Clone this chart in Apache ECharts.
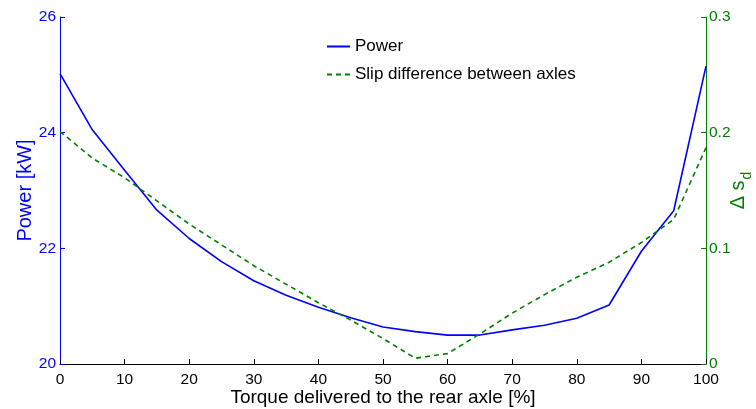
<!DOCTYPE html>
<html>
<head>
<meta charset="utf-8">
<script src="https://cdn.jsdelivr.net/npm/echarts@6/dist/echarts.min.js"></script>
<style>html,body{margin:0;padding:0;background:#fff;}#c{width:756px;height:409px;}</style>
</head>
<body>
<div id="c"></div>
<script>
const torque = [0,5,10,15,20,25,30,35,40,45,50,55,60,65,70,75,80,85,90,95,100];
const power = [25.02,24.05,23.35,22.66,22.17,21.77,21.44,21.19,20.98,20.8,20.64,20.56,20.5,20.5,20.59,20.67,20.79,21.02,21.95,22.65,25.15];
const slipDiff = [0.201,0.178,0.161,0.141,0.121,0.103,0.085,0.069,0.053,0.038,0.022,0.005,0.009,0.026,0.044,0.06,0.075,0.088,0.105,0.125,0.187];
const xTicks = [0,10,20,30,40,50,60,70,80,90,100];
const powerTicks = [20,22,24,26];
const slipTicks = [0,0.1,0.2,0.3];

const font = 'Liberation Sans, Arial, sans-serif';
const chart = echarts.init(document.getElementById('c'));
chart.setOption({
  animation: false,
  backgroundColor: '#fff',
  grid: {left: 60, right: 50, top: 17, bottom: 45, containLabel: false, outerBoundsMode: 'none'},
  legend: {
    orient: 'vertical', left: 321, top: 33,
    itemWidth: 23, itemHeight: 14, itemGap: 11,
    itemStyle: {opacity: 0},
    textStyle: {fontFamily: font, fontSize: 17, color: '#000'},
    data: ['Power', 'Slip difference between axles']
  },
  xAxis: {
    type: 'value', min: xTicks[0], max: xTicks[xTicks.length-1], interval: 10,
    name: 'Torque delivered to the rear axle [%]', nameLocation: 'middle', nameGap: 24,
    nameMoveOverlap: false,
    nameTextStyle: {fontFamily: font, fontSize: 19, color: '#000'},
    axisLine: {lineStyle: {color: '#000', width: 1}},
    axisTick: {inside: true, length: 5, lineStyle: {color: '#000'}},
    axisLabel: {fontFamily: font, fontSize: 15.5, color: '#000', margin: 8},
    splitLine: {show: false}
  },
  yAxis: [{
    type: 'value', min: powerTicks[0], max: powerTicks[powerTicks.length-1], interval: 2,
    position: 'left',
    name: 'Power [kW]', nameLocation: 'middle', nameGap: 25, nameRotate: 90,
    nameMoveOverlap: false,
    nameTextStyle: {fontFamily: font, fontSize: 20, color: '#0000ff'},
    axisLine: {show: true, lineStyle: {color: '#0000ff', width: 1}},
    axisTick: {show: true, inside: true, length: 5, lineStyle: {color: '#0000ff'}},
    axisLabel: {fontFamily: font, fontSize: 15.5, color: '#0000ff', margin: 4},
    splitLine: {show: false}
  }, {
    type: 'value', min: slipTicks[0], max: slipTicks[slipTicks.length-1], interval: 0.1,
    position: 'right',
    name: '{a|Δ s}{b|d}', nameLocation: 'middle', nameGap: 16, nameRotate: 90,
    nameMoveOverlap: false,
    nameTextStyle: {
      color: '#008000',
      rich: {
        a: {fontFamily: font, fontSize: 20, color: '#008000'},
        b: {fontFamily: font, fontSize: 14, color: '#008000', padding: [18,0,0,1]}
      }
    },
    axisLine: {show: true, lineStyle: {color: '#008000', width: 1}},
    axisTick: {show: true, inside: true, length: 5, lineStyle: {color: '#008000'}},
    axisLabel: {fontFamily: font, fontSize: 15.5, color: '#008000', margin: 3,
      formatter: v => (Math.round(v*10)/10).toString()},
    splitLine: {show: false}
  }],
  series: [{
    name: 'Power', type: 'line', yAxisIndex: 0, symbol: 'none',
    data: torque.map((t,i) => [t, power[i]]),
    lineStyle: {color: '#0000ff', width: 1.6}, itemStyle: {color: '#0000ff'}
  }, {
    name: 'Slip difference between axles', type: 'line', yAxisIndex: 1, symbol: 'none',
    data: torque.map((t,i) => [t, slipDiff[i]]),
    lineStyle: {color: '#008000', width: 1.6, type: [5,4]}, itemStyle: {color: '#008000'}
  }]
});
</script>
</body>
</html>
